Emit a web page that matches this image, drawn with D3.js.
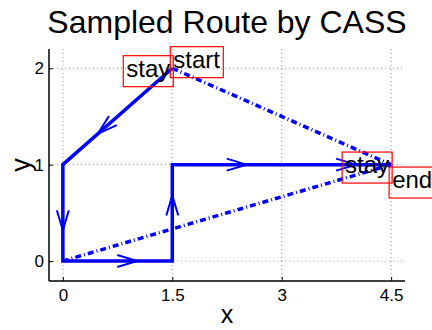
<!DOCTYPE html>
<html lang="en">
<head>
<meta charset="UTF-8">
<title>Sampled Route by CASS</title>
<script src="https://d3js.org/d3.v7.min.js"></script>
<style>
    body { margin: 0; background: #fff; }
    text { font-family: "Liberation Sans", Arial, sans-serif; fill: #000; }
    .grid line { stroke: #999; stroke-dasharray: 1,3; }
</style>
</head>
<body>
<svg width="432" height="330" id="svg1"></svg>
<script>
    // route (solid, with arrows)
    var routeX = [1.5, 0, 0, 1.5, 1.5, 3, 4.5];
    var routeY = [2, 1, 0, 0, 1, 1, 1];
    // dash-dot jumps
    var jumps = [
        [[1.5, 2], [4.5, 1]],
        [[0, 0], [4.5, 1]]
    ];
    var labelText = ["stay", "start", "stay", "end"];
    var labelX = [1.5, 1.5, 4.5, 4.5];
    var labelY = [2, 2, 1, 1];
    var xTicks = [0, 1.5, 3, 4.5];
    var xTickLabels = ["0", "1.5", "3", "4.5"];
    var yTicks = [0, 1, 2];
    var yTickLabels = ["0", "1", "2"];

    var svg = d3.select("#svg1");
    var mLeft = 49, mRight = 405, mTop = 49, mBottom = 281;

    var x = d3.scaleLinear().domain([-0.19, 4.69]).range([mLeft, mRight]);
    var y = d3.scaleLinear().domain([-0.207, 2.2]).range([mBottom, mTop]);

    // grid
    var grid = svg.append("g").attr("class", "grid");
    grid.selectAll(".gx").data(xTicks).enter().append("line")
        .attr("x1", d => x(d)).attr("x2", d => x(d))
        .attr("y1", mTop).attr("y2", mBottom);
    grid.selectAll(".gy").data(yTicks).enter().append("line")
        .attr("y1", d => y(d)).attr("y2", d => y(d))
        .attr("x1", mLeft).attr("x2", mRight);

    // axes
    var xAxis = svg.append("g")
        .attr("transform", "translate(0," + mBottom + ")")
        .call(d3.axisBottom(x).tickValues(xTicks)
            .tickFormat((d, i) => xTickLabels[i]).tickSizeInner(-4).tickSizeOuter(0).tickPadding(8));
    var yAxis = svg.append("g")
        .attr("transform", "translate(" + mLeft + ",0)")
        .call(d3.axisLeft(y).tickValues(yTicks)
            .tickFormat((d, i) => yTickLabels[i]).tickSizeInner(-4).tickSizeOuter(0).tickPadding(5));
    svg.selectAll(".domain").attr("stroke", "#000").attr("stroke-width", 1.5);
    svg.selectAll(".tick line").attr("stroke", "#000");
    xAxis.selectAll("text").attr("font-size", 17).attr("font-family", "Liberation Sans").attr("fill", "#000");
    yAxis.selectAll("text").attr("font-size", 17).attr("font-family", "Liberation Sans").attr("fill", "#000");
    xAxis.select(".domain").attr("d", "M" + mLeft + ",0H" + mRight);
    yAxis.select(".domain").attr("d", "M0," + mTop + "V" + mBottom);

    // dash-dot jumps
    svg.selectAll(".jump").data(jumps).enter().append("line")
        .attr("x1", d => x(d[0][0])).attr("y1", d => y(d[0][1]))
        .attr("x2", d => x(d[1][0])).attr("y2", d => y(d[1][1]))
        .attr("stroke", "#0000ff").attr("stroke-width", 3.5)
        .attr("stroke-dasharray", "6,3,1,3");

    // route
    var pts = routeX.map((v, i) => [x(v), y(routeY[i])]);
    svg.append("path")
        .attr("d", d3.line()(pts))
        .attr("fill", "none").attr("stroke", "#0000ff")
        .attr("stroke-width", 3.5).attr("stroke-linejoin", "miter");

    // arrows along each segment
    var heads = [];
    for (var i = 0; i < pts.length - 1; i++) {
        var a = pts[i], b = pts[i + 1];
        var dx = b[0] - a[0], dy = b[1] - a[1], len = Math.sqrt(dx * dx + dy * dy);
        var ux = dx / len, uy = dy / len;
        var tx = a[0] + dx * 0.68, ty = a[1] + dy * 0.68;
        var bx = tx - ux * 20, by = ty - uy * 20;
        heads.push("M" + (bx - uy * 6) + "," + (by + ux * 6) + "L" + tx + "," + ty +
            "L" + (bx + uy * 6) + "," + (by - ux * 6));
    }
    svg.selectAll(".head").data(heads).enter().append("path")
        .attr("d", d => d).attr("fill", "none")
        .attr("stroke", "#0000ff").attr("stroke-width", 2);

    // labels with red boxes
    var place = {
        stay: { anchor: "end", dx: -2, dy: 0 },
        start: { anchor: "start", dx: 1, dy: -9 },
        end: { anchor: "start", dx: 1, dy: 15 }
    };
    labelText.forEach(function (t, i) {
        var p = place[t];
        var g = svg.append("g");
        var txt = g.append("text")
            .attr("x", x(labelX[i]) + p.dx)
            .attr("y", y(labelY[i]) + p.dy)
            .attr("dy", "0.35em")
            .attr("text-anchor", p.anchor)
            .attr("font-size", 24)
            .text(t);
        var bb = txt.node().getBBox();
        g.insert("rect", "text")
            .attr("x", bb.x - 3).attr("y", bb.y + 1)
            .attr("width", bb.width + 6).attr("height", bb.height + 4)
            .attr("fill", "none").attr("stroke", "#ff0000").attr("stroke-width", 1.2);
    });

    // title and axis labels
    svg.append("text").attr("x", (mLeft + mRight) / 2).attr("y", 33)
        .attr("text-anchor", "middle").attr("font-size", 32)
        .text("Sampled Route by CASS");
    svg.append("text").attr("x", (mLeft + mRight) / 2).attr("y", 323)
        .attr("text-anchor", "middle").attr("font-size", 25).text("x");
    svg.append("text")
        .attr("transform", "translate(30," + (mTop + mBottom) / 2 + ") rotate(-90)")
        .attr("text-anchor", "middle").attr("font-size", 27).text("y");
</script>
</body>
</html>
